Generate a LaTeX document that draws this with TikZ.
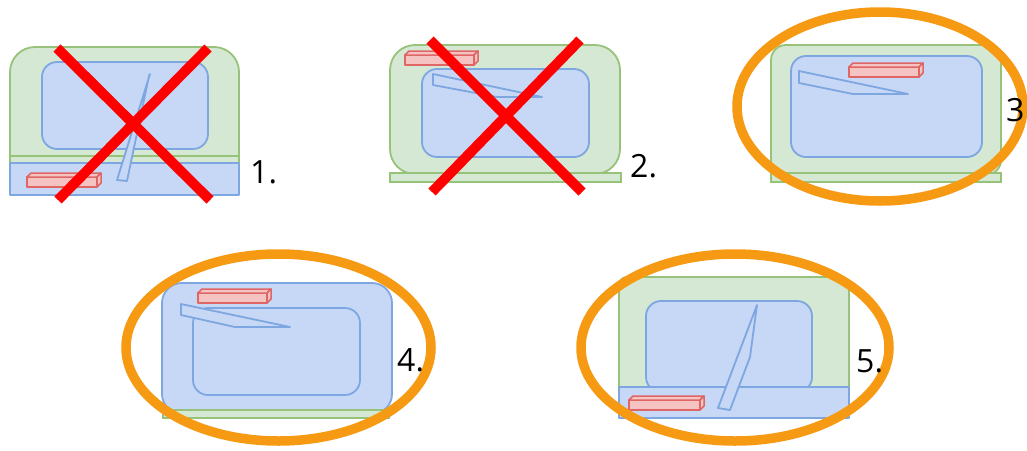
\documentclass[tikz,border=0pt]{standalone}
\usepackage{fontspec}
\setmainfont{Open Sans}
\definecolor{gfill}{HTML}{D5E8D4}
\definecolor{gline}{HTML}{97C27A}
\definecolor{bfill}{HTML}{C6D8F6}
\definecolor{bline}{HTML}{7EA6E0}
\definecolor{rfill}{HTML}{F6C3C3}
\definecolor{rline}{HTML}{E06666}
\definecolor{orng}{HTML}{F59A12}
\definecolor{xred}{HTML}{FF0000}
\tikzset{
  greenpart/.style={fill=gfill, draw=gline, line width=1.8pt},
  bluepart/.style={fill=bfill, draw=bline, line width=1.8pt, line join=round},
  redpart/.style={fill=rfill, draw=rline, line width=1.5pt, line join=round},
  cross/.style={draw=xred, line width=10pt},
  ring/.style={draw=orng, line width=9.5pt},
  lab/.style={anchor=west, inner sep=0pt, font=\fontsize{32}{38}\selectfont}
}
\newcommand\rbar[3]{%
  \filldraw[redpart] (#1,#2) -- ++(#3,0) -- ++(0,10) -- ++(-#3,0) -- cycle;
  \filldraw[redpart] (#1,#2) -- ++(4,-4) -- ++(#3,0) -- ++(-4,4) -- cycle;
  \filldraw[redpart] (#1+#3,#2) -- ++(4,-4) -- ++(0,10) -- ++(-4,4) -- cycle;
}
\begin{document}
\begin{tikzpicture}[x=1pt,y=-1pt]
\useasboundingbox (0,0) rectangle (1027,450);
% ---------- 1 ----------
\filldraw[greenpart, rounded corners=25pt] (10,47) rectangle (239,192);
\draw[gline, line width=1.8pt] (10,156) -- (239,156);
\filldraw[bluepart] (10,163) rectangle (239,195);
\filldraw[bluepart, rounded corners=15pt] (42,62) rectangle (208,149);
\filldraw[bluepart] (150,74) -- (149,76) -- (127,181) -- (117,180) -- cycle;
\rbar{27}{177}{70}
\draw[cross] (57,48) -- (210,200);
\draw[cross] (208,48) -- (58,200);
\node[lab] (l1) at (250,172) {1.};
% ---------- 2 ----------
\filldraw[greenpart, rounded corners=25pt] (390,45) rectangle (620,174);
\filldraw[greenpart] (390,173) rectangle (621,182);
\filldraw[bluepart, rounded corners=15pt] (422,69) rectangle (589,157);
\filldraw[bluepart] (433,74) -- (433,85) -- (497,97) -- (542,97) -- cycle;
\rbar{405}{55}{69}
\draw[cross] (430,40) -- (582,192);
\draw[cross] (580,40) -- (432,192);
\node[lab] (l2) at (630,166) {2.};
% ---------- 3 ----------
\filldraw[greenpart, rounded corners=15pt] (771,45) rectangle (1001,175);
\filldraw[greenpart] (771,173) rectangle (1001,182);
\filldraw[bluepart, rounded corners=15pt] (791,56) rectangle (982,157);
\filldraw[bluepart] (799,71) -- (799,83) -- (853,94) -- (908,94) -- cycle;
\rbar{849}{67}{70}
\draw[ring] (880,106.5) ellipse [x radius=143, y radius=94.5];
\node[lab] (l3) at (1006,110) {3};
% ---------- 4 ----------
\filldraw[bluepart, rounded corners=20pt] (162,283) rectangle (392,414);
\filldraw[greenpart] (163,410) rectangle (389,418);
\draw[bline, line width=1.8pt, rounded corners=15pt] (193,308) rectangle (360,395);
\filldraw[bluepart] (181,304) -- (181,315) -- (235,327) -- (290,327) -- cycle;
\rbar{198}{293}{69}
\draw[ring] (278.5,347.5) ellipse [x radius=152.5, y radius=93.5];
\node[lab] (l4) at (397,360) {4.};
% ---------- 5 ----------
\filldraw[greenpart, rounded corners=8pt] (619,277) rectangle (849,400);
\filldraw[bluepart, rounded corners=15pt] (646,301) rectangle (812,392);
\filldraw[bluepart] (619,387) rectangle (849,418);
\filldraw[bluepart] (757,305) -- (750,357) -- (730,410) -- (718,408) -- cycle;
\rbar{629}{400}{71}
\draw[ring] (735,347.5) ellipse [x radius=154, y radius=93.5];
\node[lab] (l5) at (856,361) {5.};
\end{tikzpicture}
\end{document}
